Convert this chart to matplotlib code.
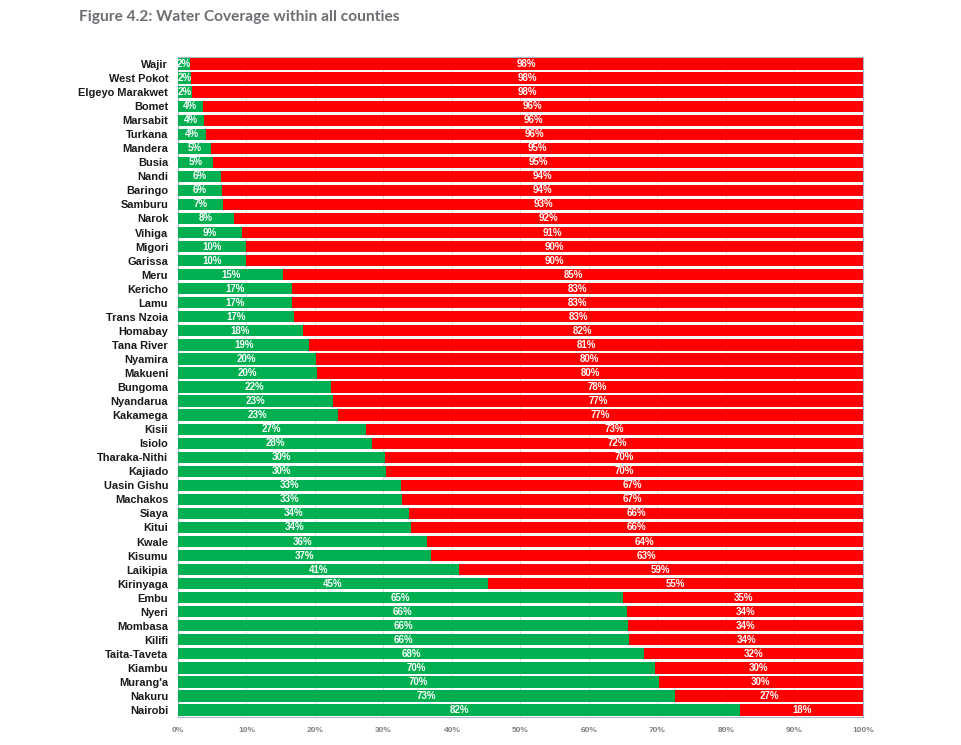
import matplotlib
matplotlib.use('Agg')
import matplotlib.pyplot as plt
import numpy as np

# counties, top to bottom
counties = ['Wajir', 'West Pokot', 'Elgeyo Marakwet', 'Bomet', 'Marsabit', 'Turkana',
            'Mandera', 'Busia', 'Nandi', 'Baringo', 'Samburu', 'Narok', 'Vihiga',
            'Migori', 'Garissa', 'Meru', 'Kericho', 'Lamu', 'Trans Nzoia', 'Homabay',
            'Tana River', 'Nyamira', 'Makueni', 'Bungoma', 'Nyandarua', 'Kakamega',
            'Kisii', 'Isiolo', 'Tharaka-Nithi', 'Kajiado', 'Uasin Gishu', 'Machakos',
            'Siaya', 'Kitui', 'Kwale', 'Kisumu', 'Laikipia', 'Kirinyaga', 'Embu',
            'Nyeri', 'Mombasa', 'Kilifi', 'Taita-Taveta', 'Kiambu', "Murang'a",
            'Nakuru', 'Nairobi']

# % with water coverage (green)
covered = [1.75, 1.9, 2.0, 3.6, 3.8, 4.1,
           4.8, 5.1, 6.3, 6.4, 6.6, 8.2, 9.3,
           9.9, 9.9, 15.4, 16.6, 16.7, 16.9, 18.2,
           19.2, 20.1, 20.3, 22.3, 22.6, 23.3,
           27.4, 28.3, 30.2, 30.3, 32.6, 32.7,
           33.8, 34.0, 36.3, 36.9, 41.0, 45.2, 65.0,
           65.6, 65.7, 65.9, 68.1, 69.6, 70.2,
           72.6, 82.1]
# % without coverage (red)
not_covered = [100 - v for v in covered]

green = '#00b050'
red = '#ff0000'

fig = plt.figure(figsize=(9.62, 7.45), dpi=100)
ax = fig.add_axes([0.185, 0.0375, 0.712, 0.886])

y = np.arange(len(counties))
ax.barh(y, covered, height=0.8, color=green, zorder=3)
ax.barh(y, not_covered, left=covered, height=0.8, color=red, zorder=3)

for i in range(len(counties)):
    g = covered[i]
    r = not_covered[i]
    ax.text(g / 2, i, f'{round(g)}%', ha='center', va='center', color='white',
            fontsize=7, fontweight='bold', family='Liberation Sans', zorder=4)
    ax.text(g + r / 2, i, f'{round(r)}%', ha='center', va='center', color='white',
            fontsize=7, fontweight='bold', family='Liberation Sans', zorder=4)

ax.set_xlim(0, 100)
ax.set_ylim(len(counties) - 0.5, -0.5)
ax.set_yticks(y)
ax.set_yticklabels(counties, fontsize=7.9, fontweight='bold', family='Liberation Sans',
                   color='#1a1a1a')
ax.set_xticks(np.arange(0, 101, 10))
ax.set_xticklabels([f'{t}%' for t in range(0, 101, 10)], fontsize=6,
                   fontweight='bold', family='Liberation Sans', color='#808080')
ax.tick_params(axis='both', length=0)
ax.tick_params(axis='x', pad=7)
ax.tick_params(axis='y', pad=7)
ax.grid(axis='x', color='#d9d9d9', linewidth=0.6, zorder=0)
for s in ax.spines.values():
    s.set_color('#a9b8cc')
    s.set_linewidth(0.8)

fig.text(0.082, 0.986, 'Figure 4.2: Water Coverage within all counties', fontsize=11.2,
         family='Lato', fontweight='bold', color='#6b6e73', ha='left', va='top')

plt.savefig('out.png', dpi=100)
plt.close()
